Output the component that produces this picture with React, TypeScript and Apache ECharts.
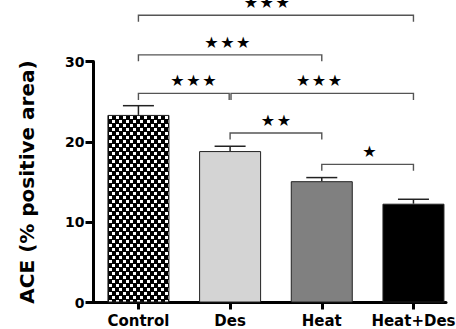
import React, { useEffect, useRef } from "react";
import * as echarts from "echarts";

const categories = ["Control", "Des", "Heat", "Heat+Des"];
const means = [23.35, 18.85, 15.1, 12.3];
const upperErr = [24.5, 19.45, 15.55, 12.85];
const barColors = ["pattern", "#d4d4d4", "#808080", "#000000"];
const yTicks = [0, 10, 20, 30];

// significance brackets
const bracketFrom = [0, 0, 0, 1.01, 1, 2];
const bracketTo = [3, 2, 0.99, 3, 2, 3];
const bracketLevel = [35.75, 30.83, 26.03, 26.03, 21.1, 17.2];
const starPos = [1.4, 0.97, 0.6, 1.97, 1.5, 2.52];
const starLabels = ["★\u200a★\u200a★", "★\u200a★\u200a★", "★\u200a★\u200a★", "★\u200a★\u200a★", "★\u200a★", "★"];

function makePattern(): HTMLCanvasElement {
  const c = document.createElement("canvas");
  c.width = 7;
  c.height = 8;
  const ctx = c.getContext("2d")!;
  ctx.fillStyle = "#000";
  ctx.fillRect(0, 0, 7, 8);
  ctx.fillStyle = "#fff";
  ctx.fillRect(0, 0, 3, 3);
  ctx.fillRect(4, 4, 3, 3);
  return c;
}

export default function App() {
  const ref = useRef<HTMLDivElement>(null);
  useEffect(() => {
    if (!ref.current) return;
    const chart = echarts.init(ref.current, undefined, { renderer: "svg" });
    const pattern = makePattern();
    const font = "DejaVu Sans";

    const barData = means.map((v, i) => ({
      value: [i, v],
      itemStyle: {
        color:
          barColors[i] === "pattern"
            ? { image: pattern, repeat: "repeat" }
            : barColors[i],
        borderColor: "#222",
        borderWidth: 1,
      },
    }));

    const errData = means.map((v, i) => [i, v, upperErr[i]]);
    const bracketData = bracketFrom.map((f, i) => [
      f,
      bracketTo[i],
      bracketLevel[i],
      starPos[i],
      starLabels[i],
    ]);

    chart.setOption({
      animation: false,
      grid: {
        left: 93.5,
        right: 10,
        top: 61.5,
        bottom: 26.5,
        containLabel: false,
        outerBoundsMode: "none",
      },
      xAxis: {
        type: "value",
        min: -0.49,
        max: 3.355,
        splitLine: { show: false },
        axisLine: { show: true, onZero: false, lineStyle: { color: "#000", width: 3 } },
        axisTick: {
          show: true,
          customValues: [0, 1, 2, 3],
          length: 7,
          lineStyle: { color: "#000", width: 3 },
        },
        axisLabel: {
          customValues: [0, 1, 2, 3],
          formatter: (v: number) => categories[Math.round(v)] ?? "",
          color: "#000",
          fontFamily: font,
          fontWeight: "bold",
          fontSize: 15,
          margin: 11,
        },
      },
      yAxis: {
        type: "value",
        min: 0,
        max: 30,
        interval: 10,
        splitLine: { show: false },
        axisLine: { show: true, onZero: false, lineStyle: { color: "#000", width: 3 } },
        axisTick: {
          show: true,
          length: 8,
          lineStyle: { color: "#000", width: 3 },
        },
        axisLabel: {
          color: "#000",
          fontFamily: font,
          fontWeight: "bold",
          fontSize: 14,
          margin: 9,
          formatter: (v: number) => (yTicks.includes(v) ? String(v) : ""),
        },
        name: "ACE (% positive area)",
        nameLocation: "middle",
        nameGap: 57,
        nameTextStyle: {
          color: "#000",
          fontFamily: font,
          fontWeight: "bold",
          fontSize: 20,
        },
      },
      series: [
        {
          type: "bar",
          data: barData,
          barWidth: 62,
          z: 2,
        },
        {
          type: "custom",
          data: errData,
          z: 3,
          renderItem: (params: any, api: any) => {
            const x = api.value(0);
            const top = api.coord([x, api.value(1)]);
            const up = api.coord([x, api.value(2)]);
            const half = 15.5;
            return {
              type: "group",
              children: [
                {
                  type: "line",
                  shape: { x1: top[0], y1: top[1], x2: up[0], y2: up[1] },
                  style: { stroke: "#222", lineWidth: 1.5 },
                },
                {
                  type: "line",
                  shape: { x1: up[0] - half, y1: up[1], x2: up[0] + half, y2: up[1] },
                  style: { stroke: "#222", lineWidth: 1.5 },
                },
              ],
            };
          },
        },
        {
          type: "custom",
          data: bracketData,
          clip: false,
          z: 4,
          renderItem: (params: any, api: any) => {
            const a = api.coord([api.value(0), api.value(2)]);
            const b = api.coord([api.value(1), api.value(2)]);
            const s = api.coord([api.value(3), api.value(2)]);
            const drop = 6.5;
            const label = bracketData[params.dataIndex][4] as string;
            return {
              type: "group",
              children: [
                {
                  type: "polyline",
                  shape: {
                    points: [
                      [a[0], a[1] + drop],
                      [a[0], a[1]],
                      [b[0], b[1]],
                      [b[0], b[1] + drop],
                    ],
                  },
                  style: { stroke: "#555", lineWidth: 1.4, fill: "none" },
                },
                {
                  type: "text",
                  x: s[0],
                  y: s[1] - 12.5,
                  style: {
                    text: label,
                    fontFamily: font,
                    fontSize: 16,
                    fill: "#000",
                    align: "center",
                    verticalAlign: "middle",
                  },
                },
              ],
            };
          },
        },
      ],
    });
    return () => chart.dispose();
  }, []);
  return <div ref={ref} style={{ width: 456, height: 329, position: "absolute", left: 0, top: 0 }} />;
}
